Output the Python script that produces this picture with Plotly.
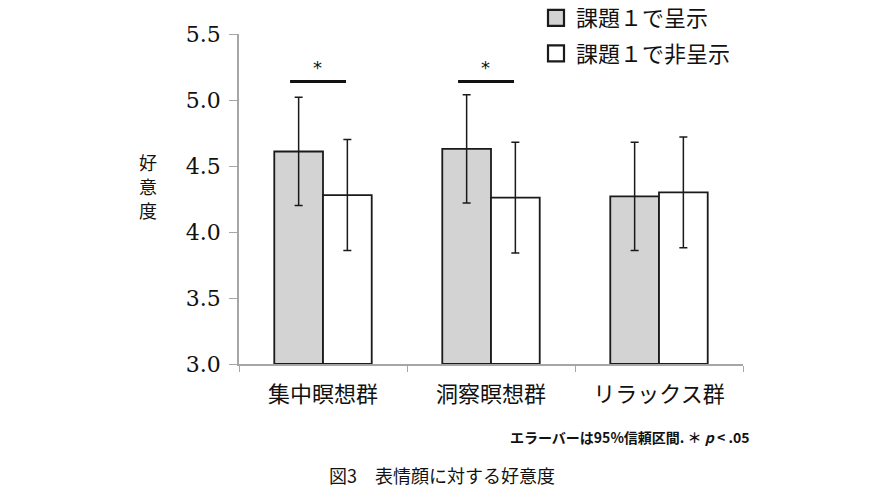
import plotly.graph_objects as go

categories = ["集中瞑想群", "洞察瞑想群", "リラックス群"]
series_names = ["課題１で呈示", "課題１で非呈示"]
presented = [4.61, 4.63, 4.27]
presented_ci = [0.41, 0.41, 0.41]
not_presented = [4.28, 4.26, 4.30]
not_presented_ci = [0.42, 0.42, 0.42]
sig_groups = [0, 1]
sig_level = 5.14
y_ticks = [3.0, 3.5, 4.0, 4.5, 5.0, 5.5]
y_title_chars = ["好", "意", "度"]

JP = "Noto Sans CJK JP"
SERIF = "DejaVu Serif"
fills = ["#d3d3d3", "#ffffff"]

L, R, T, B = 239, 147, 34, 136
PW, PH = 890 - L - R, 500 - T - B


def px(xp):
    return (xp - L) / PW


def py(yp):
    return 1 - (yp - T) / PH


fig = go.Figure()
for name, vals, ci, col in [(series_names[0], presented, presented_ci, fills[0]),
                            (series_names[1], not_presented, not_presented_ci, fills[1])]:
    fig.add_trace(go.Bar(
        x=categories, y=[v - 3.0 for v in vals], base=3.0, name=name, showlegend=False,
        marker=dict(color=col, line=dict(color="#1a1a1a", width=1.8)),
        error_y=dict(type="data", array=ci, color="#1a1a1a", thickness=1.5, width=4),
    ))
    fig.add_trace(go.Scatter(
        x=[None], y=[None], mode="markers", name=name, legendgroup=name,
        marker=dict(symbol="square", size=16, color=col, line=dict(color="#1a1a1a", width=2.2)),
    ))

for g in sig_groups:
    fig.add_shape(type="line", xref="x", yref="y", x0=g - 0.196, x1=g + 0.137,
                  y0=sig_level, y1=sig_level, line=dict(color="#111111", width=3))
    fig.add_annotation(x=g - 0.03, y=sig_level, xref="x", yref="y", text="*",
                       showarrow=False, yanchor="bottom", yshift=2,
                       font=dict(family="DejaVu Sans", size=18, color="#111111"))

for i, ch in enumerate(y_title_chars):
    fig.add_annotation(x=px(148), y=py(162 + 24 * i), xref="paper", yref="paper", text=ch,
                       showarrow=False, xanchor="center", yanchor="middle",
                       font=dict(family=JP, size=18, color="#111111"))

fig.update_layout(
    width=890, height=500, margin=dict(l=L, r=R, t=T, b=B, autoexpand=False),
    paper_bgcolor="white", plot_bgcolor="white",
    barmode="group", bargap=0.42, bargroupgap=0.0,
    legend=dict(x=px(536), y=py(-3), xanchor="left", yanchor="top", traceorder="grouped",
                tracegroupgap=4, font=dict(family=JP, size=22, color="#111111"),
                bgcolor="rgba(0,0,0,0)", itemwidth=30),
    xaxis=dict(type="category", showline=True, linecolor="#a6a6a6", linewidth=1.5,
               ticks="outside", tickson="boundaries", ticklen=6, tickcolor="#a6a6a6",
               ticklabelstandoff=10,
               tickfont=dict(family=JP, size=22, color="#111111"), showgrid=False),
    yaxis=dict(range=[3.0, 5.5], tickvals=y_ticks, ticktext=[f"{t:.1f}" for t in y_ticks],
               showline=True, linecolor="#a6a6a6", linewidth=1.5, ticks="outside",
               ticklen=8, tickcolor="#a6a6a6", showgrid=False, zeroline=False,
               ticklabelstandoff=4,
               tickfont=dict(family=SERIF, size=22, color="#111111")),
)

fig.add_annotation(x=px(752), y=py(437), xref="paper", yref="paper",
                   xanchor="right", yanchor="middle",
                   text="<b>エラーバーは95%信頼区間. ＊ <i>p</i> < .05</b>",
                   showarrow=False, font=dict(family=JP, size=14, color="#111111"))
fig.add_annotation(x=px(442), y=py(475), xref="paper", yref="paper",
                   xanchor="center", yanchor="middle", text="図3　表情顔に対する好意度",
                   showarrow=False, font=dict(family=JP, size=18, color="#111111"))

fig.write_html("out.html")
